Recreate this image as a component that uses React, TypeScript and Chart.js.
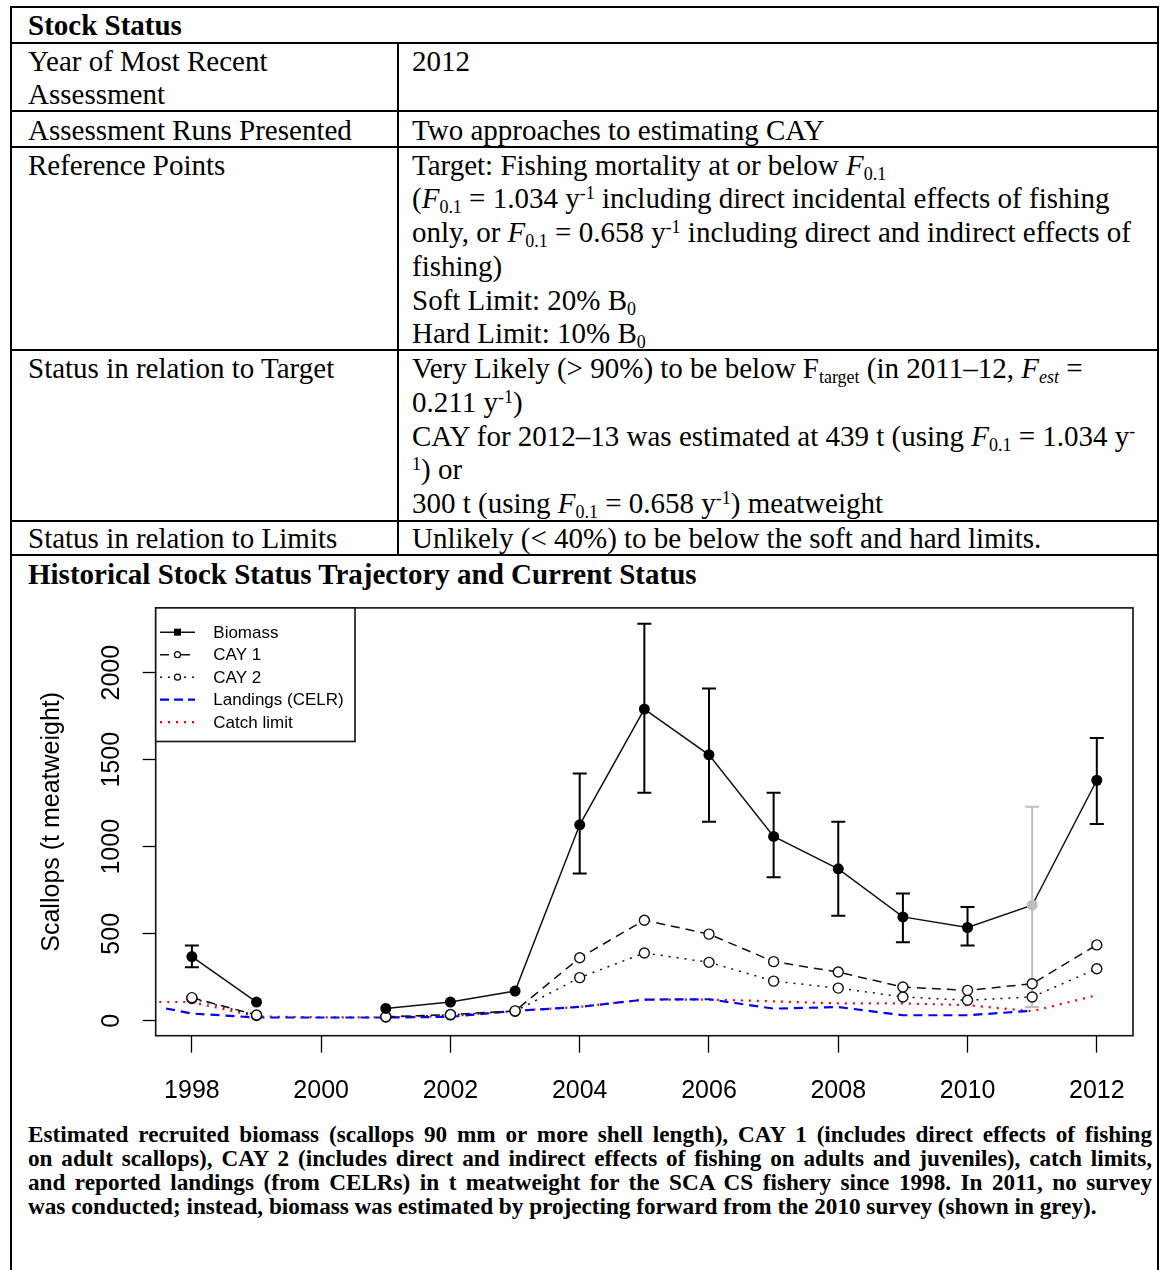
import React, { useEffect, useRef } from 'react';
import { Chart, registerables } from 'chart.js';

Chart.register(...registerables);

// ---------------- DATA ----------------
const years = [1998, 1999, 2000, 2001, 2002, 2003, 2004, 2005, 2006, 2007, 2008, 2009, 2010, 2011, 2012];
const biomass = [369, 108, null, 71, 108, 171, 1126, 1791, 1528, 1059, 873, 597, 536, 664, 1382];
const biomassLow = [308, null, null, null, null, null, 846, 1310, 1143, 825, 603, 451, 432, 80, 1131];
const biomassHigh = [432, null, null, null, null, null, 1420, 2281, 1909, 1310, 1143, 732, 654, 1230, 1625];
const projectedYear = 2011;
const cay1 = [133, 33, null, 23, 36, 57, 362, 578, 498, 340, 280, 194, 175, 213, 436];
const cay2 = [128, 30, null, 22, 34, 55, 248, 390, 336, 228, 188, 137, 118, 137, 299];
const landingYears = [1997.6, 1998, 1999, 2000, 2001, 2002, 2003, 2004, 2005, 2006, 2007, 2008, 2009, 2010, 2011];
const landings = [71, 42, 19, 19, 19, 23, 57, 80, 122, 124, 70, 79, 32, 32, 58];
const catchLimitYears = [1997, 1998, 1999, 2000, 2001, 2002, 2003, 2004, 2005, 2006, 2007, 2008, 2009, 2010, 2011, 2012];
const catchLimit = [108, 108, 25, 20, 20, 27, 57, 80, 122, 122, 112, 100, 100, 90, 55, 147];
const seriesLabels = ['Biomass', 'CAY 1', 'CAY 2', 'Landings (CELR)', 'Catch limit'];
const xTickValues = [1998, 2000, 2002, 2004, 2006, 2008, 2010, 2012];
const yTickValues = [0, 500, 1000, 1500, 2000];
const yTitle = 'Scallops (t meatweight)';

const SANS = '"Liberation Sans", Arial, sans-serif';
const SERIF = '"Liberation Serif", "Times New Roman", serif';
const GREY = '#bebebe';

const pts = (xs: number[], ys: (number | null)[]) => xs.map((x, i) => ({ x, y: ys[i] }));

const errorBarPlugin = {
  id: 'errorBars',
  beforeDatasetsDraw(chart: any) {
    const { ctx, scales } = chart;
    const xs = scales.x, ys = scales.y;
    ctx.save();
    ctx.lineWidth = 2;
    years.forEach((yr, i) => {
      const lo = biomassLow[i], hi = biomassHigh[i];
      if (lo == null || hi == null) return;
      const px = xs.getPixelForValue(yr);
      const pl = ys.getPixelForValue(lo);
      const ph = ys.getPixelForValue(hi);
      ctx.strokeStyle = yr === projectedYear ? GREY : '#000';
      ctx.beginPath();
      ctx.moveTo(px, pl); ctx.lineTo(px, ph);
      ctx.moveTo(px - 7, pl); ctx.lineTo(px + 7, pl);
      ctx.moveTo(px - 7, ph); ctx.lineTo(px + 7, ph);
      ctx.stroke();
    });
    ctx.restore();
  },
};

const boxLegendPlugin = {
  id: 'boxLegend',
  afterDraw(chart: any) {
    const { ctx, chartArea } = chart;
    ctx.save();
    ctx.strokeStyle = '#111';
    ctx.lineWidth = 1.6;
    ctx.strokeRect(chartArea.left, chartArea.top, chartArea.right - chartArea.left, chartArea.bottom - chartArea.top);
    // legend
    const left = chartArea.left, top = chartArea.top;
    const w = 199.3, h = 133.6;
    ctx.fillStyle = '#fff';
    ctx.fillRect(left, top, w, h);
    ctx.strokeRect(left, top, w, h);
    chart.data.datasets.forEach((ds: any, i: number) => {
      const y = top + 24.3 + i * 22.5;
      ctx.setLineDash(ds.legendDash || []);
      ctx.strokeStyle = ds.borderColor;
      ctx.lineWidth = ds.borderWidth;
      ctx.beginPath();
      ctx.moveTo(left + 4.3, y);
      ctx.lineTo(left + 39.3, y);
      ctx.stroke();
      ctx.setLineDash([]);
      if (ds.pointRadius > 0) {
        ctx.beginPath();
        if (ds.legendFilled) {
          ctx.rect(left + 21.8 - 3.5, y - 3.5, 7, 7);
          ctx.fillStyle = '#000';
          ctx.fill();
        } else {
          ctx.arc(left + 21.8, y, ds.legendRadius, 0, Math.PI * 2);
          ctx.fillStyle = '#fff';
          ctx.fill();
          ctx.lineWidth = 1.2;
          ctx.strokeStyle = '#000';
          ctx.stroke();
        }
      }
      ctx.fillStyle = '#000';
      ctx.font = `17px ${SANS}`;
      ctx.textBaseline = 'middle';
      ctx.textAlign = 'left';
      ctx.fillText(ds.label, left + 57.6, y + 1);
    });
    ctx.restore();
  },
};

function ScallopChart() {
  const ref = useRef<HTMLCanvasElement | null>(null);
  useEffect(() => {
    if (!ref.current) return;
    const chart = new Chart(ref.current, {
      type: 'line',
      data: {
        datasets: [
          {
            label: seriesLabels[0],
            data: pts(years, biomass),
            borderColor: '#111',
            borderWidth: 1.5,
            pointRadius: 5.5,
            pointBackgroundColor: years.map((y) => (y === projectedYear ? GREY : '#000')),
            pointBorderColor: years.map((y) => (y === projectedYear ? GREY : '#000')),
            pointBorderWidth: 0,
            spanGaps: false,
            legendRadius: 3.5,
            legendFilled: true,
          } as any,
          {
            label: seriesLabels[1],
            data: pts(years, cay1),
            borderColor: '#111',
            borderWidth: 1.5,
            borderDash: [9, 6],
            legendDash: [9, 5, 2, 5],
            pointRadius: 5,
            pointBackgroundColor: '#fff',
            pointBorderColor: '#111',
            pointBorderWidth: 1.4,
            spanGaps: false,
            legendRadius: 3,
          } as any,
          {
            label: seriesLabels[2],
            data: pts(years, cay2),
            borderColor: '#111',
            borderWidth: 1.5,
            borderDash: [2, 6],
            legendDash: [2, 6],
            pointRadius: 5,
            pointBackgroundColor: '#fff',
            pointBorderColor: '#111',
            pointBorderWidth: 1.4,
            spanGaps: false,
            legendRadius: 3,
          } as any,
          {
            label: seriesLabels[3],
            data: pts(landingYears, landings),
            borderColor: '#0000ff',
            borderWidth: 2.2,
            borderDash: [9, 6],
            legendDash: [9, 5],
            pointRadius: 0,
          } as any,
          {
            label: seriesLabels[4],
            data: pts(catchLimitYears, catchLimit),
            borderColor: '#ff0000',
            borderWidth: 2.2,
            borderDash: [2, 6],
            legendDash: [2, 6],
            pointRadius: 0,
          } as any,
        ],
      },
      options: {
        animation: false,
        responsive: false,
        maintainAspectRatio: false,
        events: [],
        layout: { padding: { top: 14.7, right: 24, bottom: 0, left: 0 } },
        plugins: { legend: { display: false }, tooltip: { enabled: false } },
        elements: { line: { tension: 0 } },
        scales: {
          x: {
            type: 'linear',
            min: 1997.44,
            max: 2012.56,
            afterBuildTicks: (s: any) => { s.ticks = xTickValues.map((value) => ({ value })); },
            afterFit: (s: any) => { s.height = 74.3; },
            border: { display: false },
            grid: { drawOnChartArea: false, drawTicks: true, tickLength: 17, tickColor: '#000', tickWidth: 1.3 },
            ticks: {
              autoSkip: false,
              maxRotation: 0,
              padding: 23.8,
              color: '#000',
              font: { size: 25, family: SANS },
              callback: (v: any) => String(v),
            },
          },
          y: {
            type: 'linear',
            min: -85.5,
            max: 2372,
            afterBuildTicks: (s: any) => { s.ticks = yTickValues.map((value) => ({ value })); },
            afterFit: (s: any) => { s.width = 143.7; },
            border: { display: false },
            grid: { drawOnChartArea: false, drawTicks: true, tickLength: 13, tickColor: '#000', tickWidth: 1.3 },
            ticks: {
              autoSkip: false,
              minRotation: 90,
              maxRotation: 90,
              crossAlign: 'center',
              padding: 2.9,
              color: '#000',
              font: { size: 25, family: SANS },
              callback: (v: any) => String(v),
            },
            title: {
              display: true,
              text: yTitle,
              color: '#000',
              font: { size: 25, family: SANS },
              padding: { top: 25, bottom: 0 },
            },
          },
        },
      } as any,
      plugins: [errorBarPlugin, boxLegendPlugin],
    });
    return () => chart.destroy();
  }, []);
  return (
    <canvas
      ref={ref}
      width={1145}
      height={520}
      style={{ position: 'absolute', left: 12, top: 590, width: 1145, height: 520 }}
    />
  );
}

// ---------------- TABLE TEXT ----------------
const Sub = ({ children, italic }: any) => (
  <span style={{ fontSize: '0.62em', position: 'relative', top: '0.3em', fontStyle: italic ? 'italic' : 'normal' }}>{children}</span>
);
const Sup = ({ children }: any) => (
  <span style={{ fontSize: '0.62em', position: 'relative', top: '-0.5em' }}>{children}</span>
);
const F01 = () => (
  <>
    <i>F</i>
    <Sub>0.1</Sub>
  </>
);

const Line = ({ x, cy, bold, children }: any) => (
  <div
    style={{
      position: 'absolute',
      left: x,
      top: cy - 17,
      height: 34,
      lineHeight: '34px',
      whiteSpace: 'nowrap',
      fontSize: 29,
      fontFamily: SERIF,
      fontWeight: bold ? 'bold' : 'normal',
      color: '#000',
    }}
  >
    {children}
  </div>
);

const HLine = ({ y, x1, x2 }: any) => (
  <div style={{ position: 'absolute', left: x1, top: y - 1, width: x2 - x1, height: 2, background: '#000' }} />
);
const VLine = ({ x, y1, y2 }: any) => (
  <div style={{ position: 'absolute', left: x - 1, top: y1, width: 2, height: y2 - y1, background: '#000' }} />
);

const captionLines = [
  'Estimated recruited biomass (scallops 90 mm or more shell length), CAY 1 (includes direct effects of fishing',
  'on adult scallops), CAY 2 (includes direct and indirect effects of fishing on adults and juveniles), catch limits,',
  'and reported landings (from CELRs) in t meatweight for the SCA CS fishery since 1998. In 2011, no survey',
  'was conducted; instead, biomass was estimated by projecting forward from the 2010 survey (shown in grey).',
];

export default function App() {
  const L = 28;
  const R = 412;
  return (
    <div
      style={{
        position: 'absolute',
        left: 0,
        top: 0,
        width: 1161,
        height: 1270,
        background: '#fff',
        overflow: 'hidden',
      }}
    >
      {/* borders */}
      <HLine y={7} x1={10} x2={1159} />
      <HLine y={43} x1={10} x2={1159} />
      <HLine y={111} x1={10} x2={1159} />
      <HLine y={147} x1={10} x2={1159} />
      <HLine y={350} x1={10} x2={1159} />
      <HLine y={521} x1={10} x2={1159} />
      <HLine y={555} x1={10} x2={1159} />
      <VLine x={11} y1={6} y2={1270} />
      <VLine x={1158} y1={6} y2={1270} />
      <VLine x={398} y1={43} y2={555} />

      <Line x={L} cy={25} bold>Stock Status</Line>

      <Line x={L} cy={61}>Year of Most Recent</Line>
      <Line x={L} cy={94}>Assessment</Line>
      <Line x={R} cy={61}>2012</Line>

      <Line x={L} cy={130}>Assessment Runs Presented</Line>
      <Line x={R} cy={130}>Two approaches to estimating CAY</Line>

      <Line x={L} cy={165}>Reference Points</Line>
      <Line x={R} cy={165}>Target: Fishing mortality at or below <F01 /></Line>
      <Line x={R} cy={198}>
        (<F01 /> = 1.034 y<Sup>-1</Sup> including direct incidental effects of fishing
      </Line>
      <Line x={R} cy={232}>
        only, or <F01 /> = 0.658 y<Sup>-1</Sup> including direct and indirect effects of
      </Line>
      <Line x={R} cy={266}>fishing)</Line>
      <Line x={R} cy={300}>Soft Limit: 20% B<Sub>0</Sub></Line>
      <Line x={R} cy={333}>Hard Limit: 10% B<Sub>0</Sub></Line>

      <Line x={L} cy={368}>Status in relation to Target</Line>
      <Line x={R} cy={368}>
        Very Likely (&gt; 90%) to be below F<Sub>target</Sub> (in 2011–12, <i>F</i><Sub italic>est</Sub> =
      </Line>
      <Line x={R} cy={402}>0.211 y<Sup>-1</Sup>)</Line>
      <Line x={R} cy={436}>
        CAY for 2012–13 was estimated at 439 t (using <F01 /> = 1.034 y<Sup>-</Sup>
      </Line>
      <Line x={R} cy={469}><Sup>1</Sup>) or</Line>
      <Line x={R} cy={503}>
        300 t (using <F01 /> = 0.658 y<Sup>-1</Sup>) meatweight
      </Line>

      <Line x={L} cy={538}>Status in relation to Limits</Line>
      <Line x={R} cy={538}>Unlikely (&lt; 40%) to be below the soft and hard limits.</Line>

      <Line x={L} cy={574} bold>Historical Stock Status Trajectory and Current Status</Line>

      <ScallopChart />

      {captionLines.map((t, i) => (
        <div
          key={i}
          style={{
            position: 'absolute',
            left: L,
            top: 1134 - 12 + i * 24,
            width: 1124,
            height: 24,
            lineHeight: '24px',
            fontSize: 23.2,
            fontWeight: 'bold',
            fontFamily: SERIF,
            whiteSpace: 'nowrap',
            textAlign: 'justify',
            textAlignLast: i < 3 ? 'justify' : 'left',
            color: '#000',
          } as any}
        >
          {t}
        </div>
      ))}
    </div>
  );
}
